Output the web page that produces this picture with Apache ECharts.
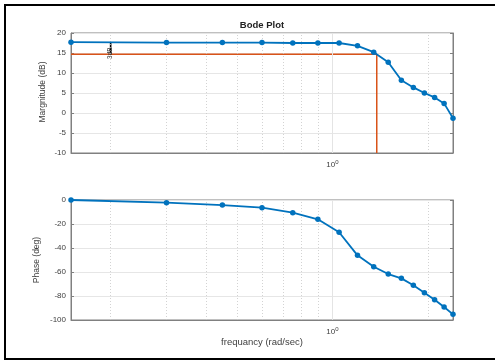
<!DOCTYPE html>
<html><head><meta charset="utf-8">
<script src="https://cdn.jsdelivr.net/npm/echarts@6/dist/echarts.min.js"></script>
<style>html,body{margin:0;padding:0;background:#fff;overflow:hidden}#c{width:495px;height:361px}</style>
</head><body><div id="c"></div>
<script>
const freq = [0.15,0.3,0.45,0.6,0.75,0.9,1.05,1.2,1.35,1.5,1.65,1.8,1.95,2.1,2.25,2.4];
const magDb = [17.7,17.6,17.6,17.6,17.5,17.5,17.5,16.8,15.2,12.7,8.2,6.4,5.0,3.9,2.4,-1.3];
const phaseDeg = [0,-2.2,-4.2,-6.4,-10.6,-16.1,-26.9,-46.1,-55.6,-61.7,-65.3,-71.1,-77.2,-83.1,-89.2,-95.3];
const cutoffLine = [[0.15,14.7],[1.38,14.7],[1.38,-10]];
const threeDbLine = [[0.2,17.7],[0.2,14.7]];
const minorGridX = [0.2,0.3,0.4,0.5,0.6,0.7,0.8,0.9,2];
const majorGridX = [1];
const magTicks = {min:-10, max:20, interval:5};
const phaseTicks = {min:-100, max:0, interval:20};

const FONT = 'Liberation Sans, Arial, sans-serif';
const BLUE = '#0072BD', ORANGE = '#D95319', AX = '#808080', TXT = '#404040';

function gridLines(){
  return {
    silent:true, symbol:'none', label:{show:false}, animation:false,
    data: minorGridX.map(v=>({xAxis:v, lineStyle:{type:[1,2], color:'#c8c8c8', width:0.8}}))
      .concat(majorGridX.map(v=>({xAxis:v, lineStyle:{type:'solid', color:'#e4e4e4', width:1}})))
  };
}
function xAx(gi){
  return {type:'log', logBase:10, gridIndex:gi, min:0.15, max:2.4,
    axisLine:{onZero:false, lineStyle:{color:AX}}, splitLine:{show:false},
    axisTick:{show:false},
    axisLabel:{color:TXT, fontFamily:FONT, fontSize:8, margin:6, showMinLabel:false, showMaxLabel:false,
      formatter:v=>Math.abs(v-1)<1e-6?'10{s|0}':'',
      rich:{s:{fontSize:6, verticalAlign:'top', padding:[0,0,5,0], color:TXT, fontFamily:FONT}}}};
}
function yAx(gi,t){
  return {type:'value', gridIndex:gi, min:t.min, max:t.max, interval:t.interval,
    axisLine:{show:true, onZero:false, lineStyle:{color:AX}}, axisTick:{show:true, inside:true, length:3, lineStyle:{color:AX}},
    splitLine:{lineStyle:{color:'#e6e6e6'}},
    axisLabel:{color:TXT, fontFamily:FONT, fontSize:8, margin:5}};
}
function yAxR(gi,t){
  return {type:'value', gridIndex:gi, position:'right', min:t.min, max:t.max, interval:t.interval,
    axisLine:{show:true, onZero:false, lineStyle:{color:AX}}, axisTick:{show:true, inside:true, length:3, lineStyle:{color:AX}},
    splitLine:{show:false}, axisLabel:{show:false}};
}
const chart = echarts.init(document.getElementById('c'), null, {renderer:'canvas'});
chart.setOption({
  animation:false,
  backgroundColor:'#fff',
  grid:[
    {left:71, top:33, width:382, height:120, show:true, borderColor:AX, borderWidth:1},
    {left:71, top:200, width:382, height:120, show:true, borderColor:AX, borderWidth:1}
  ],
  xAxis:[xAx(0), xAx(1)],
  yAxis:[yAx(0,magTicks), yAx(1,phaseTicks), yAxR(0,magTicks), yAxR(1,phaseTicks)],
  series:[
    {type:'line', xAxisIndex:0, yAxisIndex:0, data:cutoffLine, symbol:'none', z:3,
     lineStyle:{color:ORANGE, width:1.5}, markLine:gridLines()},
    {type:'line', xAxisIndex:0, yAxisIndex:0, data:threeDbLine, symbol:'none', z:4,
     lineStyle:{color:'#000', width:1.6},
     markPoint:{symbol:'circle', symbolSize:0, silent:true,
       data:[{coord:[0.2,16.2], label:{show:true, formatter:'3dB', rotate:90, fontSize:6.5, color:'#333', fontFamily:FONT, offset:[-5,0]}}]}},
    {type:'line', xAxisIndex:0, yAxisIndex:0, data:freq.map((f,i)=>[f,magDb[i]]), z:5,
     symbol:'circle', symbolSize:5.5, itemStyle:{color:BLUE}, lineStyle:{color:BLUE, width:1.8}},
    {type:'line', xAxisIndex:1, yAxisIndex:1, data:freq.map((f,i)=>[f,phaseDeg[i]]), z:5,
     symbol:'circle', symbolSize:5.5, itemStyle:{color:BLUE}, lineStyle:{color:BLUE, width:1.8},
     markLine:gridLines()}
  ],
  graphic:[
    {type:'line', shape:{x1:4,y1:5,x2:495,y2:5}, style:{stroke:'#000', lineWidth:2}, silent:true},
    {type:'line', shape:{x1:5,y1:4,x2:5,y2:360}, style:{stroke:'#000', lineWidth:2}, silent:true},
    {type:'line', shape:{x1:4,y1:359,x2:495,y2:359}, style:{stroke:'#000', lineWidth:2}, silent:true},
    {type:'text', x:262, y:25, style:{text:'Bode Plot', font:'bold 9.5px '+FONT, fill:'#222', textAlign:'center', textVerticalAlign:'middle'}},
    {type:'text', x:43, y:92, rotation:Math.PI/2, style:{text:'Margnitude (dB)', font:'8.5px '+FONT, fill:TXT, textAlign:'center', textVerticalAlign:'middle'}},
    {type:'text', x:37, y:260, rotation:Math.PI/2, style:{text:'Phase (deg)', font:'8.5px '+FONT, fill:TXT, textAlign:'center', textVerticalAlign:'middle'}},
    {type:'text', x:262, y:342, style:{text:'frequancy (rad/sec)', font:'9.5px '+FONT, fill:TXT, textAlign:'center', textVerticalAlign:'middle'}}
  ]
});
</script></body></html>
